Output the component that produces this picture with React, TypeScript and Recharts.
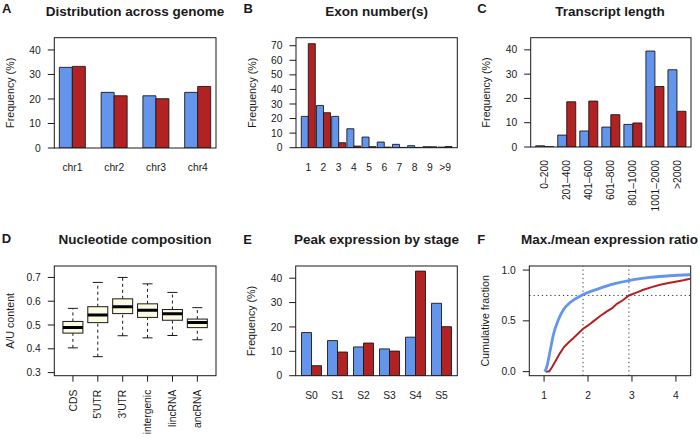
import React from 'react';
import { BarChart, Bar, XAxis, YAxis, ComposedChart, LineChart, Line, ReferenceLine } from 'recharts';

const W = 700;
const H = 438;
const FONT = '"Liberation Sans", Arial, Helvetica, sans-serif';
const BLUE = '#6495ED';
const RED = '#B22222';
const INK = '#1a1a1a';
const YW = 40;
const XH = 40;
const TICK_FS = 10.3;

// ---------- data ----------
const genomeCats = ['chr1', 'chr2', 'chr3', 'chr4'];
const genomeBlue = [32.9, 22.7, 21.3, 22.7];
const genomeRed = [33.3, 21.3, 20.1, 25.1];

const exonCats = ['1', '2', '3', '4', '5', '6', '7', '8', '9', '>9'];
const exonBlue = [21.5, 29.0, 21.5, 13.0, 7.3, 3.9, 2.3, 1.4, 0.7, 0.4];
const exonRed = [71.4, 24.0, 3.4, 1.1, 0.7, 0.4, 0.2, 0.2, 0.6, 0.8];

const lenCats = ['0–200', '201–400', '401–600', '601–800', '801–1000', '1001–2000', '>2000'];
const lenBlue = [0.5, 4.9, 6.6, 8.2, 9.3, 39.5, 31.8];
const lenRed = [0.1, 18.6, 18.9, 13.3, 9.9, 24.9, 14.7];

const ncCats = ['CDS', "5'UTR", "3'UTR", 'intergenic', 'lincRNA', 'ancRNA'];
const ncLow = [0.404, 0.367, 0.455, 0.446, 0.456, 0.438];
const ncQ1 = [0.466, 0.510, 0.548, 0.532, 0.520, 0.489];
const ncMed = [0.490, 0.542, 0.577, 0.562, 0.547, 0.511];
const ncQ3 = [0.515, 0.577, 0.610, 0.589, 0.565, 0.525];
const ncHigh = [0.570, 0.679, 0.700, 0.673, 0.637, 0.573];

const stageCats = ['S0', 'S1', 'S2', 'S3', 'S4', 'S5'];
const stageBlue = [17.7, 14.4, 11.8, 11.0, 15.8, 29.7];
const stageRed = [4.1, 9.7, 13.4, 10.1, 42.9, 20.1];

const cdfBlueX = [1.01, 1.04, 1.075, 1.136, 1.21, 1.325, 1.44, 1.59, 1.88, 2.2, 2.5, 2.93, 3.41, 3.86, 4.32];
const cdfBlueY = [0, 0.02, 0.07, 0.2, 0.36, 0.51, 0.61, 0.68, 0.757, 0.81, 0.855, 0.897, 0.927, 0.944, 0.954];
const cdfRedX = [1.045, 1.12, 1.19, 1.28, 1.36, 1.45, 1.55, 1.64, 1.74, 1.88, 2.0, 2.12, 2.27, 2.42, 2.55, 2.65, 2.8, 2.93, 3.1, 3.26, 3.45, 3.64, 3.83, 4.02, 4.17, 4.32];
const cdfRedY = [0, 0.003, 0.05, 0.12, 0.18, 0.24, 0.285, 0.32, 0.36, 0.42, 0.455, 0.495, 0.545, 0.59, 0.625, 0.665, 0.705, 0.75, 0.778, 0.806, 0.832, 0.855, 0.872, 0.888, 0.9, 0.915];
const cutBlue = 1.886;
const cutRed = 2.93;
const cutLevel = 0.75;

const freqTicks = [0, 10, 20, 30, 40];
const exonTicks = [0, 10, 20, 30, 40, 50, 60, 70];
const ncTicks = [0.3, 0.4, 0.5, 0.6, 0.7];
const cdfYTicks = [0, 0.5, 1];
const cdfXTicks = [1, 2, 3, 4];

// ---------- layout ----------
type Box = { L: number; R: number; T: number; B: number };
const boxA: Box = { L: 54.3, R: 216, T: 37.7, B: 148 };
const boxB: Box = { L: 296, R: 457.3, T: 37.7, B: 147.7 };
const boxC: Box = { L: 530.7, R: 691, T: 37.7, B: 147 };
const boxD: Box = { L: 54.3, R: 216, T: 266, B: 375.7 };
const boxE: Box = { L: 295.7, R: 457.3, T: 266, B: 375.7 };
const boxF: Box = { L: 529.3, R: 690.7, T: 266, B: 375.7 };

const mk = (b: Box) => ({ top: b.T, left: b.L - YW, right: W - b.R, bottom: H - b.B - XH });

const grouped = (cats: string[], blue: number[], red: number[]) =>
  cats.map((c, i) => ({ cat: c, blue: blue[i], red: red[i] }));

const dataA = grouped(genomeCats, genomeBlue, genomeRed);
const dataB = grouped(exonCats, exonBlue, exonRed);
const dataC = grouped(lenCats, lenBlue, lenRed);
const dataE = grouped(stageCats, stageBlue, stageRed);
const dataD = ncCats.map((c, i) => ({ cat: c, low: ncLow[i], q1: ncQ1[i], med: ncMed[i], q3: ncQ3[i], high: ncHigh[i] }));
const blueCdf = cdfBlueX.map((x, i) => ({ x, y: cdfBlueY[i] }));
const redCdf = cdfRedX.map((x, i) => ({ x, y: cdfRedY[i] }));

// ---------- ticks ----------
const yTick = (digits?: number) => (p: any) => (
  <text x={p.x} y={p.y} dy="0.35em" textAnchor="end" fontSize={TICK_FS} fontFamily={FONT} fill={INK}>
    {digits === undefined ? p.payload.value : Number(p.payload.value).toFixed(digits)}
  </text>
);
const xTick = (p: any) => (
  <text x={p.x} y={p.y} dy="0.35em" textAnchor="middle" fontSize={TICK_FS} fontFamily={FONT} fill={INK}>
    {p.payload.value}
  </text>
);
const xTickVert = (p: any) => (
  <text
    x={p.x}
    y={p.y}
    dy="0.35em"
    textAnchor="end"
    transform={`rotate(-90 ${p.x} ${p.y})`}
    fontSize={TICK_FS}
    fontFamily={FONT}
    fill={INK}
  >
    {p.payload.value}
  </text>
);

const Abs = ({ children }: { children: React.ReactNode }) => (
  <div style={{ position: 'absolute', left: 0, top: 0 }}>{children}</div>
);

function GroupedBars({
  data,
  box,
  yMax,
  ticks,
  pad,
  gap,
  vertical,
}: {
  data: any[];
  box: Box;
  yMax: number;
  ticks: number[];
  pad: number;
  gap: number;
  vertical?: boolean;
}) {
  return (
    <Abs>
      <BarChart width={W} height={H} data={data} margin={mk(box)} barGap={0} barCategoryGap={gap}>
        <XAxis
          dataKey="cat"
          interval={0}
          height={XH}
          axisLine={false}
          tickLine={false}
          tickSize={0}
          tickMargin={vertical ? 13 : 19.3}
          padding={{ left: pad, right: pad }}
          tick={vertical ? xTickVert : xTick}
        />
        <YAxis
          type="number"
          width={YW}
          domain={[0, yMax]}
          allowDataOverflow
          ticks={ticks}
          interval={0}
          axisLine={false}
          tickLine={{ stroke: INK }}
          tickSize={6.5}
          tickMargin={7}
          tick={yTick()}
        />
        <Bar dataKey="blue" fill={BLUE} stroke={INK} strokeWidth={0.9} isAnimationActive={false} />
        <Bar dataKey="red" fill={RED} stroke={INK} strokeWidth={0.9} isAnimationActive={false} />
      </BarChart>
    </Abs>
  );
}

const BoxShape = (p: any) => {
  const { x, y, width, height, payload } = p;
  if (!payload) return null;
  const top = Math.min(y, y + height);
  const bot = Math.max(y, y + height);
  const { low, high } = payload;
  const pix = (v: number) => bot - ((v - low) / (high - low)) * (bot - top);
  const cx = x + width / 2;
  const capW = width / 2;
  return (
    <g>
      <line x1={cx} x2={cx} y1={pix(low)} y2={pix(payload.q1)} stroke={INK} strokeDasharray="3 3" />
      <line x1={cx} x2={cx} y1={pix(payload.q3)} y2={pix(high)} stroke={INK} strokeDasharray="3 3" />
      <line x1={cx - capW / 2} x2={cx + capW / 2} y1={pix(low)} y2={pix(low)} stroke={INK} />
      <line x1={cx - capW / 2} x2={cx + capW / 2} y1={pix(high)} y2={pix(high)} stroke={INK} />
      <rect
        x={x}
        y={pix(payload.q3)}
        width={width}
        height={pix(payload.q1) - pix(payload.q3)}
        fill="#FBFBE2"
        stroke={INK}
        strokeWidth={1}
      />
      <line x1={x} x2={x + width} y1={pix(payload.med)} y2={pix(payload.med)} stroke="#000" strokeWidth={3} />
    </g>
  );
};

const Title = ({ x, y, text }: { x: number; y: number; text: string }) => (
  <text x={x} y={y} textAnchor="middle" fontSize={13.5} fontWeight="bold" fontFamily={FONT} fill={INK}>
    {text}
  </text>
);
const Letter = ({ x, y, text }: { x: number; y: number; text: string }) => (
  <text x={x} y={y} fontSize={13} fontWeight="bold" fontFamily={FONT} fill={INK}>
    {text}
  </text>
);
const YLabel = ({ b, text }: { b: Box; text: string }) => {
  const cx = b.L - 44;
  const cy = (b.T + b.B) / 2;
  return (
    <text
      x={cx}
      y={cy}
      dy="0.35em"
      textAnchor="middle"
      transform={`rotate(-90 ${cx} ${cy})`}
      fontSize={10.7}
      fontFamily={FONT}
      fill={INK}
    >
      {text}
    </text>
  );
};
const Frame = ({ b }: { b: Box }) => (
  <rect x={b.L} y={b.T} width={b.R - b.L} height={b.B - b.T} fill="none" stroke={INK} strokeWidth={1} />
);

export default function App() {
  return (
    <div
      style={{
        position: 'absolute',
        left: 0,
        top: 0,
        width: W,
        height: H,
        background: '#fff',
        overflow: 'hidden',
        fontFamily: FONT,
      }}
    >
      <GroupedBars data={dataA} box={boxA} yMax={45} ticks={freqTicks} pad={-2.7} gap={7.75} />
      <GroupedBars data={dataB} box={boxB} yMax={75.5} ticks={exonTicks} pad={4.7} gap={0.6} />
      <GroupedBars data={dataC} box={boxC} yMax={45} ticks={freqTicks} pad={3} gap={2.0} vertical />
      <GroupedBars data={dataE} box={boxE} yMax={45} ticks={freqTicks} pad={2.8} gap={3} />

      <Abs>
        <ComposedChart width={W} height={H} data={dataD} margin={mk(boxD)} barCategoryGap={2.4}>
          <XAxis
            dataKey="cat"
            interval={0}
            height={XH}
            axisLine={false}
            tickLine={{ stroke: INK }}
            tickSize={6}
            tickMargin={8}
            padding={{ left: 6.2, right: 6.2 }}
            tick={xTickVert}
          />
          <YAxis
            type="number"
            width={YW}
            domain={[0.287, 0.748]}
            allowDataOverflow
            ticks={ncTicks}
            interval={0}
            axisLine={false}
            tickLine={{ stroke: INK }}
            tickSize={6.5}
            tickMargin={7}
            tick={yTick(1)}
          />
          <Bar dataKey={(d: any) => [d.low, d.high]} shape={BoxShape} isAnimationActive={false} />
        </ComposedChart>
      </Abs>

      <Abs>
        <LineChart width={W} height={H} margin={mk(boxF)}>
          <XAxis
            type="number"
            dataKey="x"
            domain={[0.664, 4.336]}
            allowDataOverflow
            ticks={cdfXTicks}
            interval={0}
            height={XH}
            axisLine={false}
            tickLine={{ stroke: INK }}
            tickSize={6}
            tickMargin={14}
            tick={xTick}
          />
          <YAxis
            type="number"
            width={YW}
            domain={[-0.04, 1.04]}
            allowDataOverflow
            ticks={cdfYTicks}
            interval={0}
            axisLine={false}
            tickLine={{ stroke: INK }}
            tickSize={6.5}
            tickMargin={7}
            tick={yTick(1)}
          />
          <ReferenceLine x={cutBlue} stroke="#333" strokeDasharray="1.2 3" />
          <ReferenceLine x={cutRed} stroke="#333" strokeDasharray="1.2 3" />
          <ReferenceLine y={cutLevel} stroke="#333" strokeDasharray="1.2 3" />
          <Line
            data={redCdf}
            dataKey="y"
            type="linear"
            stroke={RED}
            strokeWidth={2}
            dot={false}
            isAnimationActive={false}
          />
          <Line
            data={blueCdf}
            dataKey="y"
            type="monotone"
            stroke={BLUE}
            strokeWidth={2.8}
            dot={false}
            isAnimationActive={false}
          />
        </LineChart>
      </Abs>

      <svg width={W} height={H} style={{ position: 'absolute', left: 0, top: 0, pointerEvents: 'none' }}>
        <Frame b={boxA} />
        <Frame b={boxB} />
        <Frame b={boxC} />
        <Frame b={boxD} />
        <Frame b={boxE} />
        <Frame b={boxF} />

        <Letter x={2} y={13.3} text="A" />
        <Letter x={243.5} y={12.9} text="B" />
        <Letter x={477.3} y={12.7} text="C" />
        <Letter x={1.7} y={243.3} text="D" />
        <Letter x={243.3} y={243.5} text="E" />
        <Letter x={477.3} y={244} text="F" />

        <Title x={135} y={16.3} text="Distribution across genome" />
        <Title x={376.7} y={16.3} text="Exon number(s)" />
        <Title x={610} y={16.3} text="Transcript length" />
        <Title x={135} y={243.8} text="Nucleotide composition" />
        <Title x={376.5} y={243.8} text="Peak expression by stage" />
        <Title x={609.5} y={243.8} text="Max./mean expression ratio" />

        <YLabel b={boxA} text="Frequency (%)" />
        <YLabel b={boxB} text="Frequency (%)" />
        <YLabel b={boxC} text="Frequency (%)" />
        <YLabel b={boxD} text="A/U content" />
        <YLabel b={boxE} text="Frequency (%)" />
        <YLabel b={boxF} text="Cumulative fraction" />
      </svg>
    </div>
  );
}
